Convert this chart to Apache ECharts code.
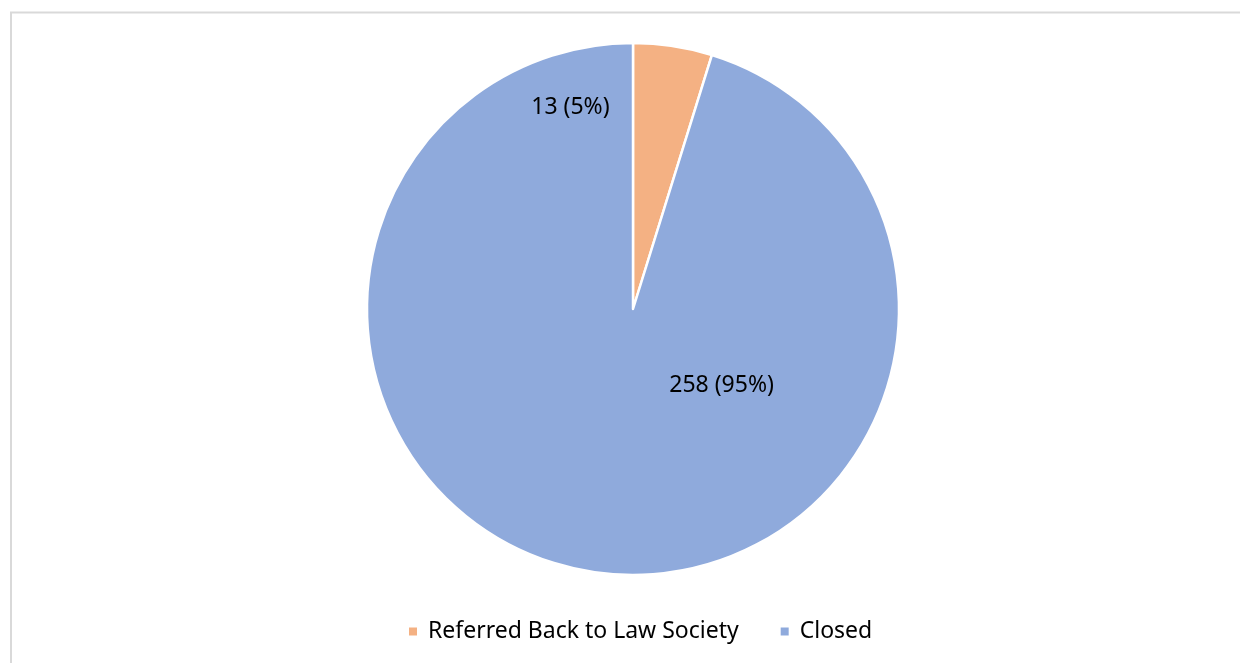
<!DOCTYPE html>
<html><head><meta charset="utf-8">
<script src="https://cdn.jsdelivr.net/npm/echarts@6/dist/echarts.min.js"></script>
<style>html,body{margin:0;padding:0;background:#fff}#c{width:1240px;height:663px}</style>
</head><body><div id="c"></div>
<script>
const categories = ["Referred Back to Law Society", "Closed"];
const values = [13, 258];
const colors = ["#F4B183", "#8FAADC"];
const labelOffsets = [[-83, -67], [109, -58]];

const total = values.reduce((a, b) => a + b, 0);
const chart = echarts.init(document.getElementById('c'), null, {renderer: 'canvas'});
chart.setOption({
  animation: false,
  backgroundColor: '#fff',
  graphic: [{
    type: 'polyline',
    shape: {points: [[11, 663], [11, 12.5], [1240, 12.5]]},
    style: {stroke: '#d9d9d9', lineWidth: 2, fill: null},
    silent: true
  }],
  legend: {
    top: 615,
    left: 402,
    itemWidth: 10, itemHeight: 10, itemGap: 40,
    icon: 'rect',
    textStyle: {fontFamily: 'Noto Sans', fontSize: 23, color: '#000', padding: [0, 0, 0, 5]},
    data: categories
  },
  series: [{
    type: 'pie',
    center: [633, 309],
    radius: [0, 266],
    startAngle: 90,
    clockwise: true,
    itemStyle: {borderColor: '#fff', borderWidth: 2.5},
    label: {
      position: 'inside',
      fontFamily: 'Noto Sans', fontSize: 23, color: '#000',
      formatter: p => p.value + ' (' + Math.round(p.value / total * 100) + '%)'
    },
    labelLine: {show: false},
    emphasis: {disabled: true},
    data: categories.map((n, i) => ({
      name: n, value: values[i],
      itemStyle: {color: colors[i]},
      label: {offset: labelOffsets[i]}
    }))
  }]
});
</script></body></html>
